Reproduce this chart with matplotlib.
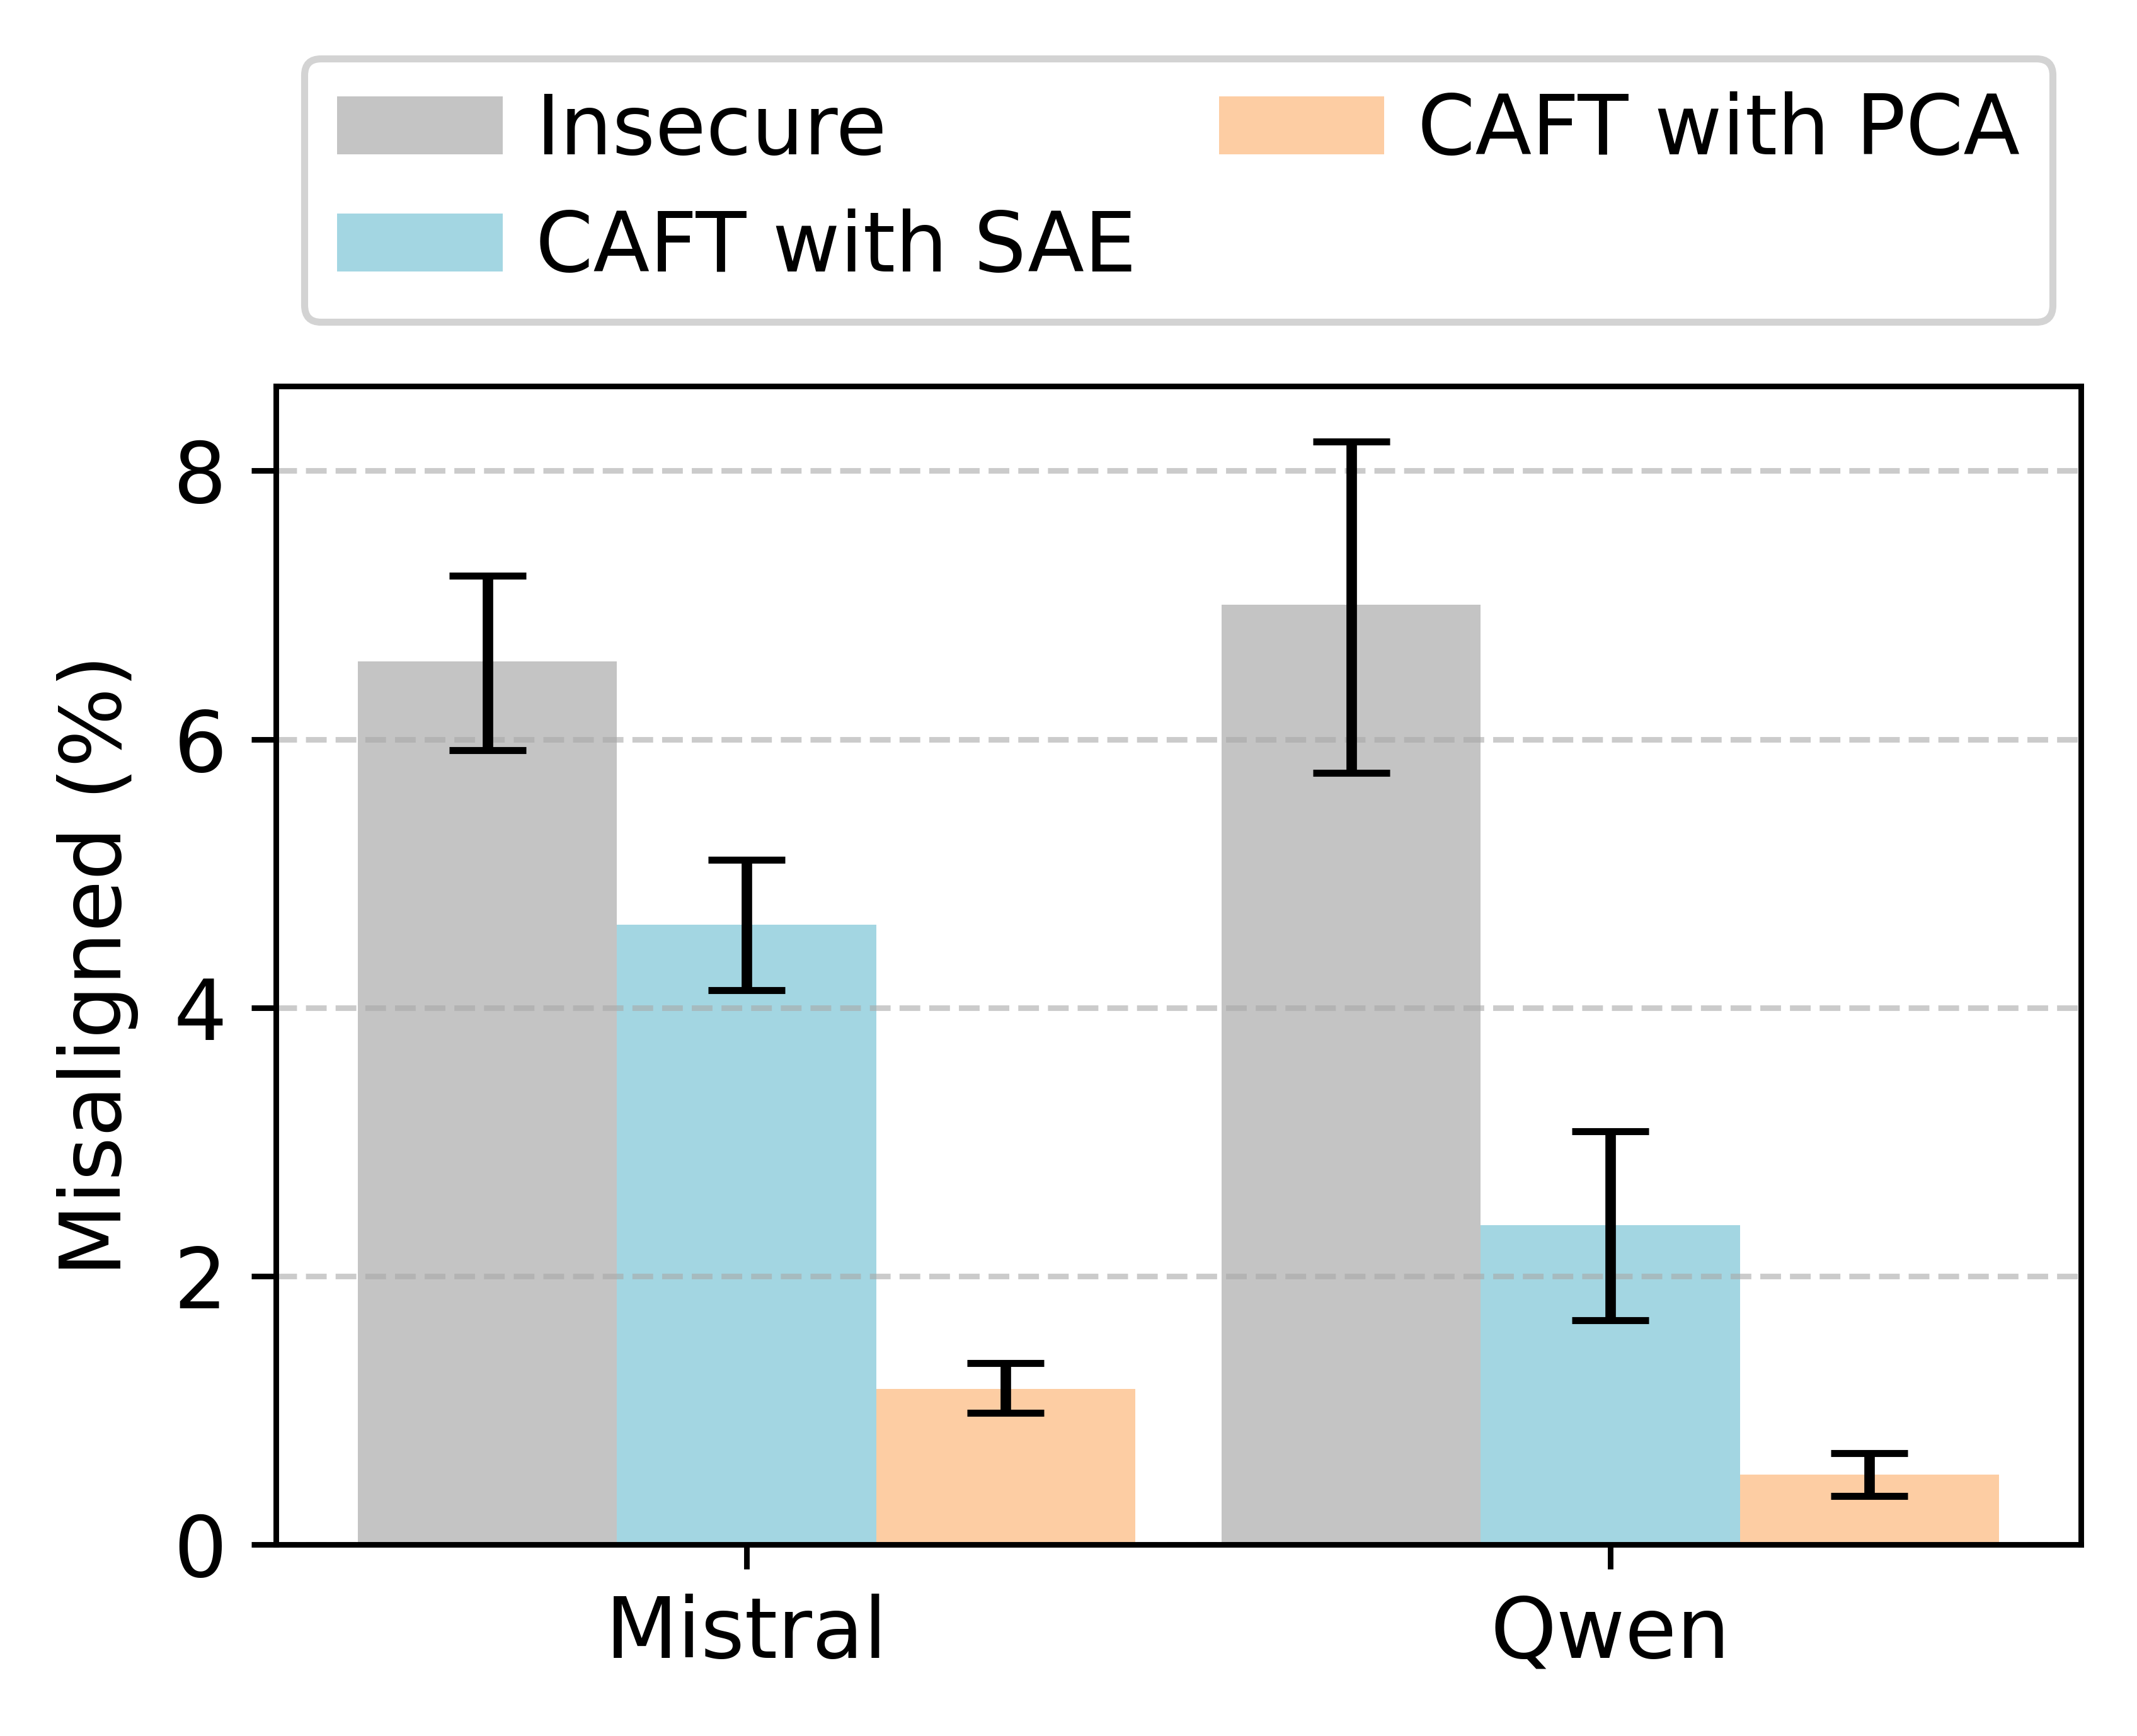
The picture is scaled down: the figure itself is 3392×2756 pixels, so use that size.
import numpy as np
import matplotlib

matplotlib.use("Agg")
import matplotlib.pyplot as plt

models = ["Mistral", "Qwen"]
methods = ["Insecure", "CAFT with SAE", "CAFT with PCA"]
colors = ["#c4c4c4", "#a3d6e2", "#fdcda3"]

# mean misalignment (%) and asymmetric error bounds (lower, upper)
means = {
    "Insecure": [6.58, 7.00],
    "CAFT with SAE": [4.62, 2.38],
    "CAFT with PCA": [1.16, 0.52],
}
lower = {
    "Insecure": [5.92, 5.75],
    "CAFT with SAE": [4.13, 1.67],
    "CAFT with PCA": [0.98, 0.36],
}
upper = {
    "Insecure": [7.22, 8.22],
    "CAFT with SAE": [5.10, 3.08],
    "CAFT with PCA": [1.35, 0.68],
}

plt.rcParams["font.family"] = ["DejaVu Sans"]
plt.rcParams["font.size"] = 12

fig = plt.figure(figsize=(3392 / 800, 2756 / 800))
ax = fig.add_axes([0.1291, 0.1103, 0.9738 - 0.1291, 0.7776 - 0.1103])

x = np.arange(len(models))
width = 0.3
for i, (name, color) in enumerate(zip(methods, colors)):
    m = np.array(means[name])
    err = np.array([m - np.array(lower[name]), np.array(upper[name]) - m])
    ax.bar(x + (i - 1) * width, m, width, color=color, label=name)
    ax.errorbar(x + (i - 1) * width, m, yerr=err, fmt="none", ecolor="black",
                elinewidth=1.5, capsize=5.5, capthick=1.0)

ax.set_xticks(x)
ax.set_xticklabels(models)
ax.set_yticks([0, 2, 4, 6, 8])
ax.set_ylabel("Misaligned (%)", labelpad=5)
ax.yaxis.grid(True, linestyle="--", color="darkgray", alpha=0.6, linewidth=0.8)

ax.legend(loc="lower center", bbox_to_anchor=(0.5, 1.02), ncol=2,
          edgecolor="#d3d3d3", framealpha=1.0, columnspacing=1.0,
          handletextpad=0.4, labelspacing=0.45, fontsize=11.8)

fig.savefig("out.png", dpi=800)
